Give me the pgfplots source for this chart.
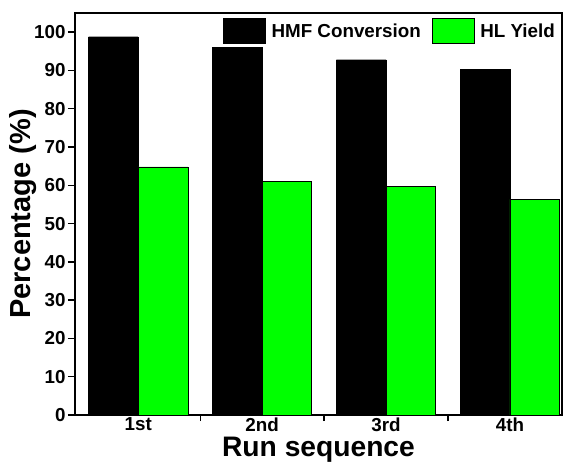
\documentclass[border=0pt]{standalone}
\usepackage{pgfplots}
\pgfplotsset{compat=1.18}
\usepackage{fontspec}
\setmainfont{Liberation Sans}
\usetikzlibrary{calc}
\definecolor{hlgreen}{RGB}{0,255,0}
\begin{document}
\begin{tikzpicture}
\begin{axis}[
  name=ax,
  scale only axis,
  width=487bp, height=402bp,
  xmin=0.49, xmax=4.42,
  ymin=0, ymax=105,
  ybar, bar width=0.4, 
  xtick={1,2,3,4},
  xticklabels={1st,2nd,3rd,4th},
  minor xtick={1.5,2.5,3.5},
  ytick={0,10,...,100},
  axis line style={line width=1.3bp},
  every tick/.style={line width=1.3bp, black},
  tick align=outside,
  xtick pos=bottom, ytick pos=left,
  major tick length=7bp,
  minor tick length=6bp,
  major x tick style={draw=none},
  /pgf/number format/assume math mode=true,
  ticklabel style={font=\bfseries\fontsize{18.8bp}{20bp}\selectfont},
  xticklabel style={yshift=7.5bp},
  yticklabel style={xshift=1bp},
  xlabel={Run sequence},
  ylabel={Percentage (\%)},
  xlabel style={font=\bfseries\fontsize{28.2bp}{30bp}\selectfont, yshift=1.5bp},
  ylabel style={font=\bfseries\fontsize{29bp}{30bp}\selectfont, yshift=-9bp},
  legend columns=2,
  legend style={draw=none, fill=none, inner sep=0pt, at={(1,1)}, anchor=north east,
    xshift=-7bp, yshift=-5bp,
    font=\bfseries\fontsize{18.8bp}{20bp}\selectfont,
    nodes={inner sep=0pt},
    /tikz/every odd column/.append style={column sep=6bp},
    /tikz/every even column/.append style={column sep=11bp, nodes={yshift=3bp}}},
  legend image code/.code={\draw[#1] (0bp,-8.8bp) rectangle (42bp,16.2bp);},
]
\addplot[fill=black, draw=black, bar shift=-0.2] coordinates {(1,98.8) (2,96.0) (3,92.8) (4,90.3)};
\addplot[fill=hlgreen, draw=black, line width=0.4bp, bar shift=0.2] coordinates {(1,64.8) (2,61.0) (3,59.8) (4,56.3)};
\legend{HMF Conversion, HL Yield}
\end{axis}
\pgfresetboundingbox
\path ($(ax.south west)+(-75bp,-48bp)$) rectangle ($(ax.north east)+(2bp,13bp)$);
\end{tikzpicture}
\end{document}
